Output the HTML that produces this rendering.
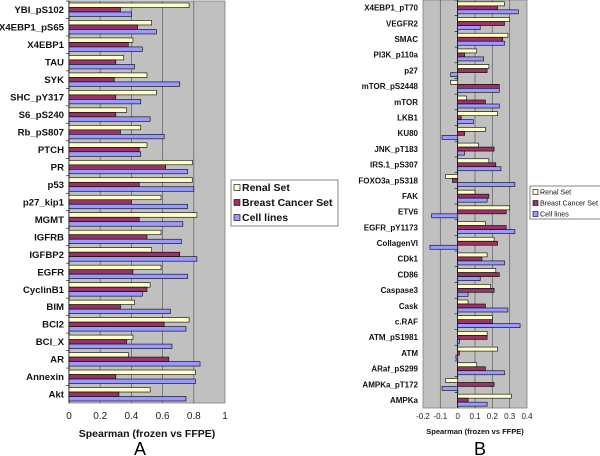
<!DOCTYPE html>
<html><head><meta charset="utf-8"><style>
body{margin:0;background:#fff;width:600px;height:456px;overflow:hidden}
svg{display:block;font-family:"Liberation Sans",sans-serif}
</style></head><body>
<svg id="chart" width="600" height="456"></svg>
<script>
const seriesNames = ["Renal Set","Breast Cancer Set","Cell lines"];
const seriesColors = ["#ffffcc","#993366","#9999ff"];
const catsA = ["YBI_pS102","X4EBP1_pS65","X4EBP1","TAU","SYK","SHC_pY317","S6_pS240","Rb_pS807","PTCH","PR","p53","p27_kip1","MGMT","IGFRB","IGFBP2","EGFR","CyclinB1","BIM","BCl2","BCl_X","AR","Annexin","Akt"];
const renalA = [0.77,0.53,0.41,0.35,0.50,0.56,0.37,0.46,0.50,0.79,0.79,0.59,0.82,0.59,0.53,0.59,0.52,0.42,0.77,0.41,0.38,0.81,0.52];
const breastA = [0.33,0.44,0.38,0.30,0.29,0.30,0.30,0.33,0.45,0.62,0.45,0.40,0.45,0.50,0.71,0.41,0.50,0.33,0.61,0.37,0.64,0.30,0.32];
const cellA = [0.40,0.56,0.47,0.42,0.71,0.46,0.52,0.61,0.46,0.76,0.80,0.76,0.73,0.72,0.82,0.76,0.47,0.65,0.75,0.66,0.84,0.81,0.75];
const ticksA = [0,0.2,0.4,0.6,0.8,1];
const catsB = ["X4EBP1_pT70","VEGFR2","SMAC","PI3K_p110a","p27","mTOR_pS2448","mTOR","LKB1","KU80","JNK_pT183","IRS.1_pS307","FOXO3a_pS318","FAK","ETV6","EGFR_pY1173","CollagenVI","CDk1","CD86","Caspase3","Cask","c.RAF","ATM_pS1981","ATM","ARaf_pS299","AMPKa_pT172","AMPKa"];
const renalB = [0.27,0.30,0.29,0.11,0.18,-0.04,0.05,0.23,0.16,0.12,0.18,-0.07,0.10,0.30,0.16,0.21,0.17,0.22,0.19,0.06,0.20,0.17,0.23,0.11,-0.07,0.31];
const breastB = [0.23,0.27,0.26,0.04,0.17,0.24,0.16,0.02,0.04,0.21,0.22,-0.03,0.18,0.28,0.28,0.23,0.14,0.24,0.21,0.16,0.20,0.17,0.01,0.16,0.21,0.06];
const cellB = [0.35,0.13,0.27,0.15,-0.04,0.24,0.24,0.09,-0.09,0.04,0.25,0.33,0.17,-0.15,0.33,-0.16,0.27,0.13,0.06,0.29,0.36,0.01,-0.01,0.27,-0.09,0.17];
const ticksB = [-0.2,-0.1,0,0.1,0.2,0.3,0.4];

const NS="http://www.w3.org/2000/svg";
const svg=document.getElementById('chart');
function mk(tag,attrs,parent){const e=document.createElementNS(NS,tag);for(const k in attrs)e.setAttribute(k,attrs[k]);(parent||svg).appendChild(e);return e;}

function panel(cfg){
  const g=mk('g',{});
  
  
  const x=v=>cfg.x0+(v-cfg.min)/(cfg.max-cfg.min)*(cfg.x1-cfg.x0);
  const bg=mk('rect',{x:cfg.x0,y:cfg.y0,width:cfg.x1-cfg.x0,height:cfg.y1-cfg.y0,fill:'#c0c0c0',stroke:'#808080','stroke-width':0.8},g);
  
  
  cfg.ticks.forEach(t=>{
    if(t!==cfg.min && t!==cfg.max){
      const l=mk('line',{x1:x(t),x2:x(t),y1:cfg.y0,y2:cfg.y1,stroke:'#666','stroke-width':0.8},g);
      
      
    }
    const tx=mk('text',{x:x(t),y:cfg.tickY,'font-size':cfg.tickFs,'text-anchor':'middle',fill:'#222'},g);
    tx.textContent=String(t);
    
    
  });
  const n=cfg.cats.length,rh=(cfg.y1-cfg.y0)/n,bh=cfg.bh;
  const zx=x(Math.max(0,cfg.min));
  mk('line',{x1:zx,x2:zx,y1:cfg.y0,y2:cfg.y1,stroke:'#000','stroke-width':0.8},g);
  const series=[cfg.s1,cfg.s2,cfg.s3];
  cfg.cats.forEach((c,i)=>{
    const cy=cfg.y0+rh*(i+0.5);
    const lb=mk('text',{x:cfg.labelX,y:cy+cfg.labFs*0.35,'font-size':cfg.labFs,'font-weight':'bold','text-anchor':'end',fill:'#111'},g);
    lb.textContent=c;
    
    
    mk('line',{x1:zx-3,x2:zx,y1:cfg.y0+rh*i,y2:cfg.y0+rh*i,stroke:'#000','stroke-width':0.6},g);
    series.forEach((s,k)=>{
      const v=s[i];
      const by=cy-1.5*bh+k*bh;
      const r=mk('rect',{x:Math.min(x(0),x(v)),y:by,width:Math.abs(x(v)-x(0)),height:bh,fill:seriesColors[k],stroke:'#000','stroke-width':0.6},g);
      
      
    });
  });
  const ti=mk('text',{x:(cfg.x0+cfg.x1)/2,y:cfg.titleY,'font-size':cfg.titleFs,'font-weight':'bold','text-anchor':'middle',fill:'#111'},g);
  ti.textContent='Spearman (frozen vs FFPE)';
  
  
  const pl=mk('text',{x:cfg.letterX,y:cfg.letterY,'font-size':cfg.letterFs,'text-anchor':'middle',fill:'#000'},g);
  pl.textContent=cfg.letter;
  
  
  const L=cfg.leg;
  const lg=mk('g',{},g);
  
  
  mk('rect',{x:L.x,y:L.y,width:L.w,height:L.h,fill:'#fff',stroke:'#666','stroke-width':0.8},lg);
  seriesNames.forEach((s,k)=>{
    const ry=L.y+L.pad+k*L.step;
    const e=mk('g',{},lg);
    
    
    mk('rect',{x:L.x+3,y:ry-L.sw/2,width:L.sw,height:L.sw,fill:seriesColors[k],stroke:'#000','stroke-width':0.6},e);
    const t=mk('text',{x:L.x+5+L.sw,y:ry+L.fs*0.35,'font-size':L.fs,'font-weight':L.fw,fill:'#111'},e);
    t.textContent=s;
  });
}

panel({name:'panel-a',cats:catsA,s1:renalA,s2:breastA,s3:cellA,ticks:ticksA,min:0,max:1,
  x0:69,x1:225,y0:1,y1:403,bh:4.5,labelX:64,labFs:9.6,tickY:419,tickFs:10,titleY:437,titleFs:10.5,
  letter:'A',letterX:140,letterY:455,letterFs:18,
  leg:{x:231,y:180,w:107,h:46,pad:7.5,step:15,sw:6,fs:10.5,fw:'bold'}});
panel({name:'panel-b',cats:catsB,s1:renalB,s2:breastB,s3:cellB,ticks:ticksB,min:-0.2,max:0.4,
  x0:423,x1:527,y0:0,y1:408,bh:4,labelX:418,labFs:8,tickY:419,tickFs:8,titleY:434,titleFs:7.5,
  letter:'B',letterX:480,letterY:455,letterFs:18,
  leg:{x:530,y:186,w:72,h:33,pad:6,step:11,sw:5,fs:7.1,fw:'normal'}});
</script>
</body></html>
